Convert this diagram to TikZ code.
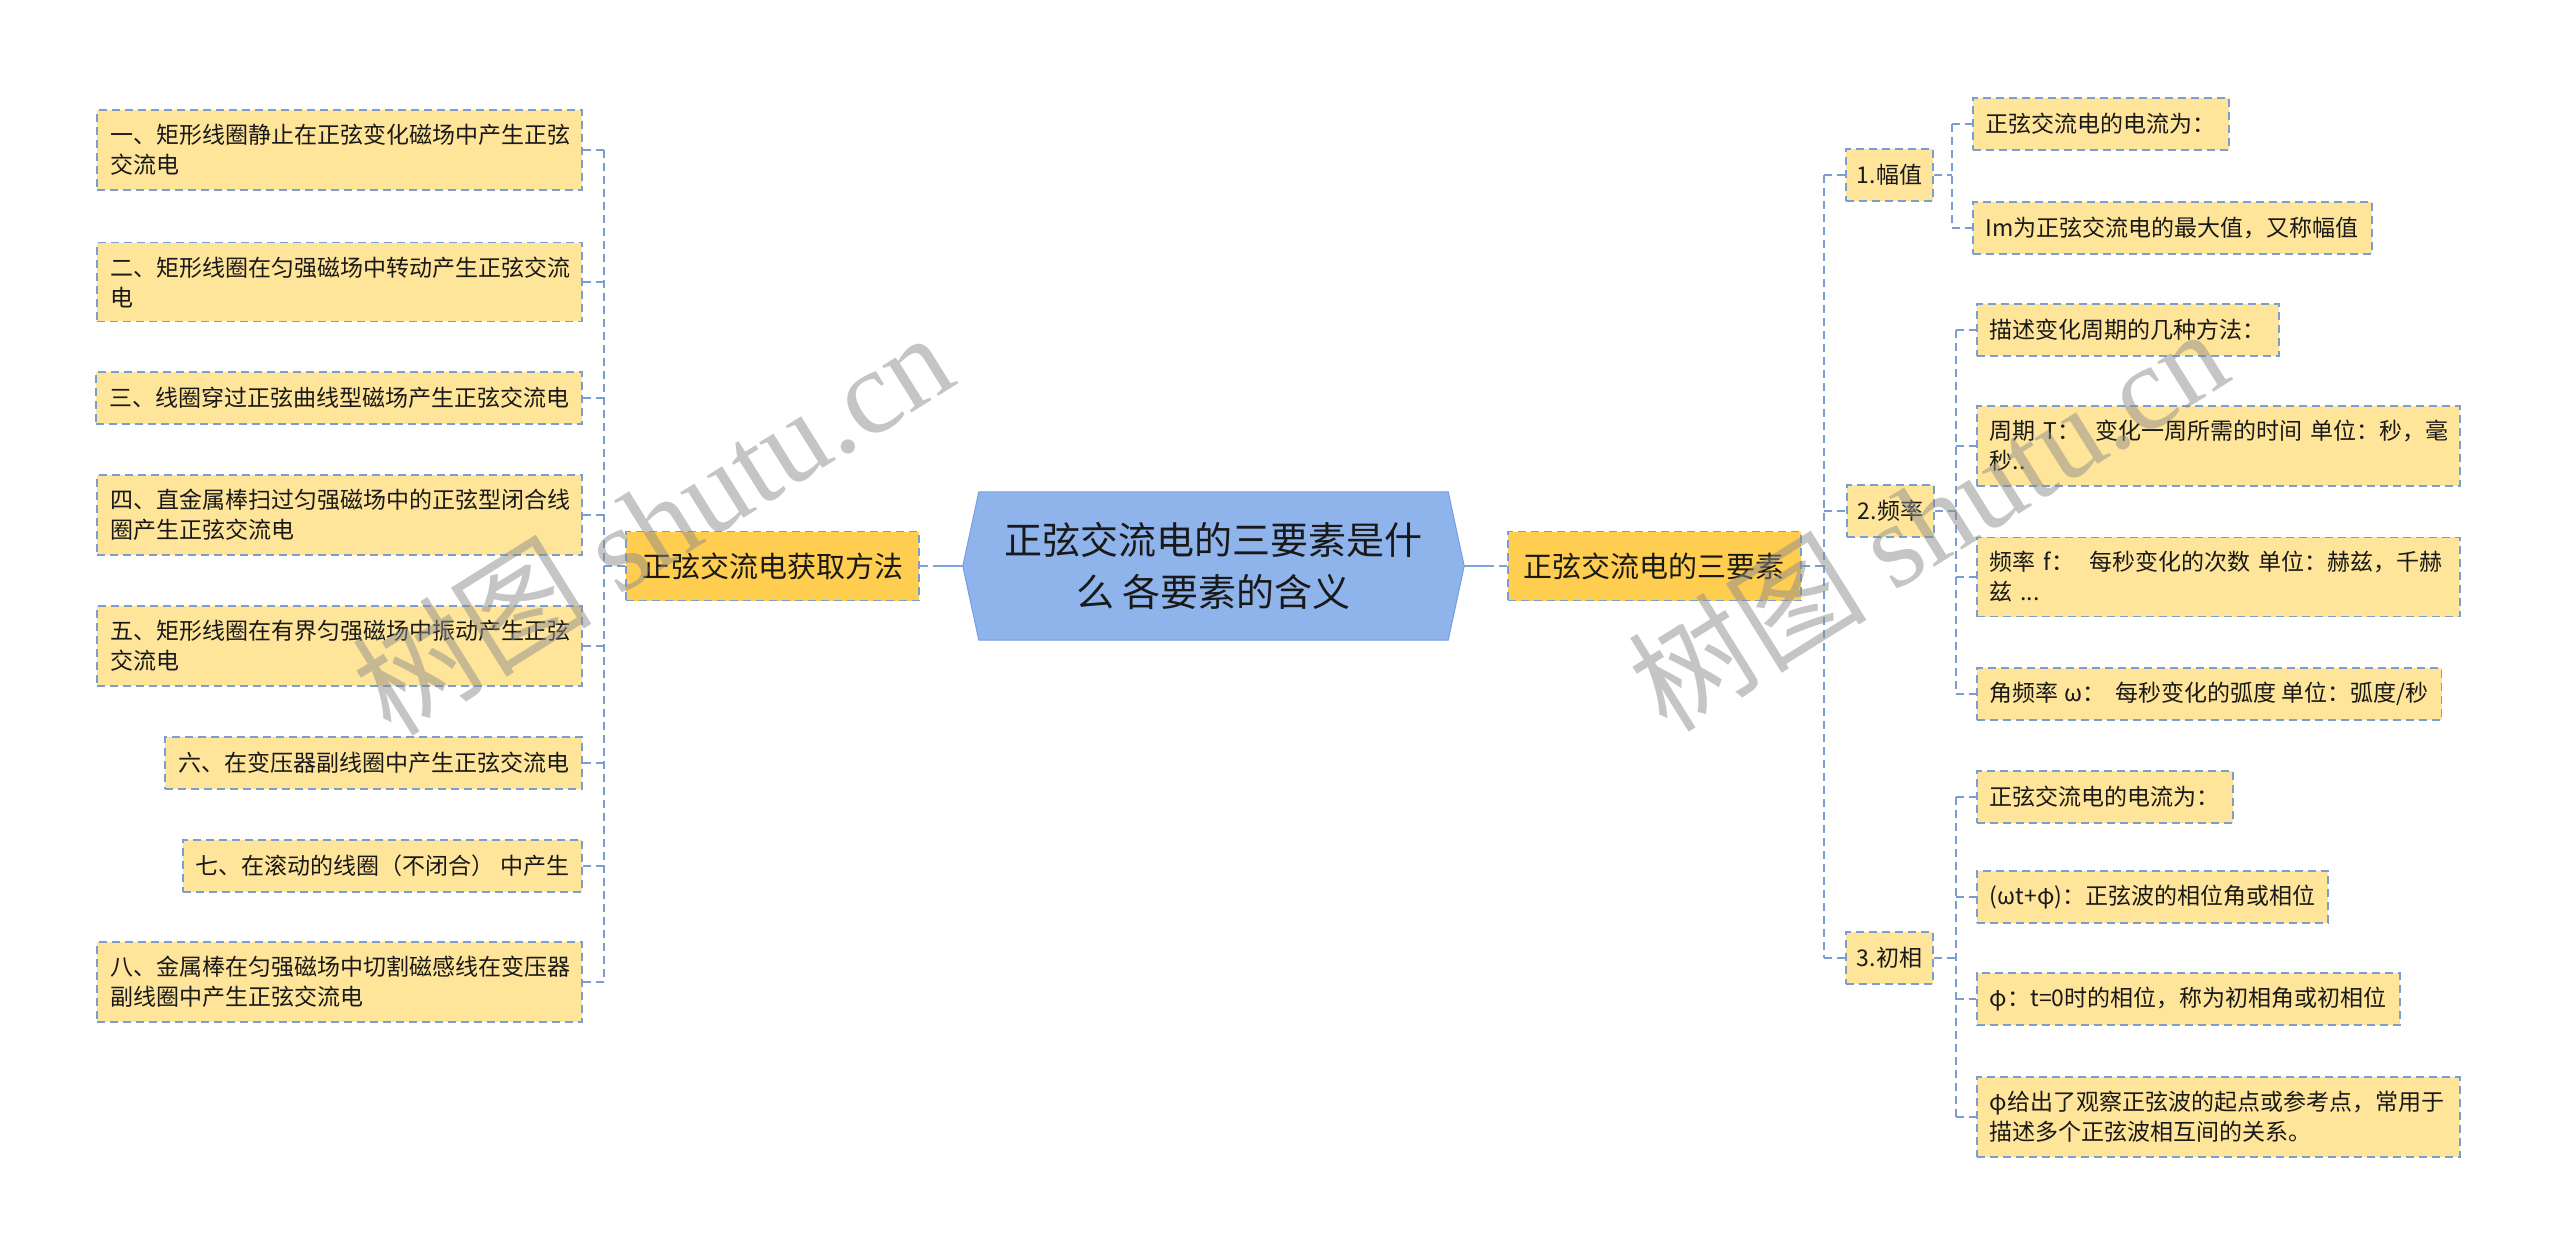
\documentclass[tikz,border=0pt]{standalone}
\usepackage{fontspec}
\setmainfont{Noto Sans CJK SC}
\newfontfamily\wmlatin{Liberation Serif}
\usetikzlibrary{backgrounds}
\definecolor{bordc}{RGB}{122,157,212}
\definecolor{connc}{RGB}{122,157,212}
\definecolor{mainconnc}{RGB}{125,162,222}
\definecolor{leaffill}{RGB}{255,229,153}
\definecolor{mainfill}{RGB}{255,206,80}
\definecolor{cfill}{RGB}{143,180,235}
\definecolor{cborder}{RGB}{118,158,225}
\definecolor{txt}{RGB}{25,25,25}
\definecolor{wmc}{RGB}{140,140,140}
\tikzset{
  leafbox/.style={draw=bordc, fill=leaffill, dash pattern=on 8pt off 5pt, line width=1.8pt,
    inner xsep=13pt, inner ysep=14pt, minimum height=52pt, align=left,
    font=\fontsize{23}{30}\selectfont, text=txt},
  lvbox/.style={leafbox, inner xsep=11pt},
  mainbox/.style={leafbox, fill=mainfill, inner xsep=16pt, minimum height=69pt,
    font=\fontsize{29}{36}\selectfont},
  centerbox/.style={minimum width=501pt, minimum height=148pt, inner sep=0pt, align=center,
    font=\fontsize{38}{52}\selectfont, text=txt},
  conn/.style={draw=connc, dash pattern=on 8pt off 5pt, line width=1.8pt},
  mainconn/.style={draw=mainconnc, dash pattern=on 30pt off 5pt, line width=2.5pt},
  wm/.style={font=\fontsize{120}{120}\selectfont, text=wmc, text opacity=0.5, inner sep=0pt}
}
\begin{document}
\begin{tikzpicture}[x=1pt,y={(0pt,-1pt)}]
\useasboundingbox (0,0) rectangle (2560,1257);

% centre
\node[centerbox] (c) at (1213.5,566) {正弦交流电的三要素是什\\么 各要素的含义};
\begin{scope}[on background layer]
\fill[white] (0,0) rectangle (2560,1257);
\filldraw[fill=cfill, draw=cborder, line width=1pt]
  (c.west) -- ([xshift=16pt]c.north west) -- ([xshift=-16pt]c.north east) -- (c.east)
  -- ([xshift=-16pt]c.south east) -- ([xshift=16pt]c.south west) -- cycle;
\end{scope}

% main branches
\node[mainbox, anchor=east] (lm) at (920,566) {正弦交流电获取方法};
\node[mainbox, anchor=west] (rm) at (1507,566) {正弦交流电的三要素};

% left leaves
\node[leafbox, anchor=east, text width=459pt] (l1) at (583,150) {一、矩形线圈静止在正弦变化磁场中产生正弦\\交流电};
\node[leafbox, anchor=east, text width=459pt] (l2) at (583,282) {二、矩形线圈在匀强磁场中转动产生正弦交流\\电};
\node[leafbox, anchor=east] (l3) at (583,398) {三、线圈穿过正弦曲线型磁场产生正弦交流电};
\node[leafbox, anchor=east, text width=459pt] (l4) at (583,515) {四、直金属棒扫过匀强磁场中的正弦型闭合线\\圈产生正弦交流电};
\node[leafbox, anchor=east, text width=459pt] (l5) at (583,646) {五、矩形线圈在有界匀强磁场中振动产生正弦\\交流电};
\node[leafbox, anchor=east] (l6) at (583,763) {六、在变压器副线圈中产生正弦交流电};
\node[leafbox, anchor=east] (l7) at (583,866) {七、在滚动的线圈（不闭合）~中产生};
\node[leafbox, anchor=east, text width=459pt] (l8) at (583,982) {八、金属棒在匀强磁场中切割磁感线在变压器\\副线圈中产生正弦交流电};

% right level 2
\node[lvbox, anchor=west] (r1) at (1845,175) {1.幅值};
\node[lvbox, anchor=west] (r2) at (1846,511) {2.频率};
\node[lvbox, anchor=west] (r3) at (1845,958) {3.初相};

% right leaves
\node[leafbox, anchor=west] (a) at (1972,124) {正弦交流电的电流为：};
\node[leafbox, anchor=west] (b) at (1972,228) {Im为正弦交流电的最大值，又称幅值};
\node[leafbox, anchor=west] (cc) at (1976,330) {描述变化周期的几种方法：};
\node[leafbox, anchor=west, text width=457pt] (d) at (1976,446) {周期~T：~~变化一周所需的时间~单位：秒，毫\\秒..};
\node[leafbox, anchor=west, text width=457pt] (e) at (1976,577) {频率~f：~~每秒变化的次数~单位：赫兹，千赫\\兹~...};
\node[leafbox, anchor=west] (f) at (1976,694) {角频率~ω：~~每秒变化的弧度~单位：弧度/秒};
\node[leafbox, anchor=west] (g) at (1976,797) {正弦交流电的电流为：};
\node[leafbox, anchor=west] (h) at (1976,897) {(ωt+φ)：正弦波的相位角或相位};
\node[leafbox, anchor=west] (i) at (1976,999) {φ：t=0时的相位，称为初相角或初相位};
\node[leafbox, anchor=west, text width=457pt] (j) at (1976,1117) {φ给出了观察正弦波的起点或参考点，常用于\\描述多个正弦波相互间的关系。};

% connectors centre
\draw[mainconn] (c.west) -- (lm.east);
\draw[mainconn] (c.east) -- (rm.west);

% left tree
\coordinate (lt) at (604,566);
\draw[conn] (lm.west) -- (lt);
\draw[conn] (lt |- l1.east) -- (lt |- l8.east);
\foreach \n in {l1,l2,l3,l4,l5,l6,l7,l8} \draw[conn] (\n.east) -- (lt |- \n.east);

% right tree
\coordinate (rt) at (1824,566);
\draw[conn] (rm.east) -- (rt);
\draw[conn] (rt |- r1.west) -- (rt |- r3.west);
\foreach \n in {r1,r2,r3} \draw[conn] (rt |- \n.west) -- (\n.west);

\coordinate (s1) at (1952,175);
\draw[conn] (r1.east) -- (s1);
\draw[conn] (s1 |- a.west) -- (s1 |- b.west);
\foreach \n in {a,b} \draw[conn] (s1 |- \n.west) -- (\n.west);

\coordinate (s2) at (1956,511);
\draw[conn] (r2.east) -- (s2);
\draw[conn] (s2 |- cc.west) -- (s2 |- f.west);
\foreach \n in {cc,d,e,f} \draw[conn] (s2 |- \n.west) -- (\n.west);

\coordinate (s3) at (1956,958);
\draw[conn] (r3.east) -- (s3);
\draw[conn] (s3 |- g.west) -- (s3 |- j.west);
\foreach \n in {g,h,i,j} \draw[conn] (s3 |- \n.west) -- (\n.west);

% watermarks
\node[wm, rotate=32] (w1) at (652,522) {树图~{\wmlatin shutu.cn}};
\node[wm, rotate=32] (w2) at (1927,518) {树图~{\wmlatin shutu.cn}};
\end{tikzpicture}
\end{document}
